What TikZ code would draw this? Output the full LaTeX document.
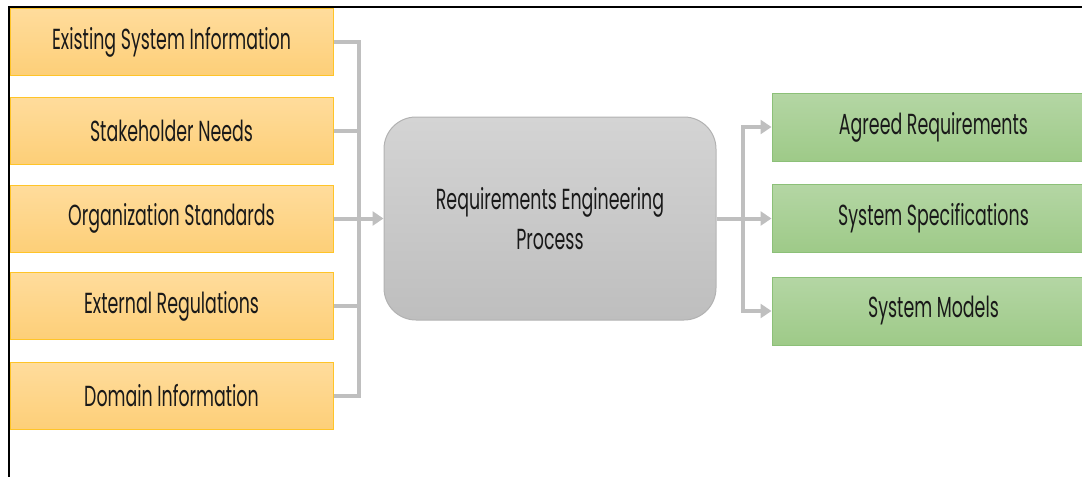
\documentclass[tikz,border=0pt]{standalone}
\usepackage{fontspec}
\usetikzlibrary{arrows.meta}
\newfontfamily\labelfont{Poppins}[FakeStretch=0.6]
\definecolor{inTop}{RGB}{255,220,156}
\definecolor{inBot}{RGB}{253,207,120}
\definecolor{inEdge}{RGB}{255,196,40}
\definecolor{outTop}{RGB}{180,214,164}
\definecolor{outBot}{RGB}{158,202,136}
\definecolor{outEdge}{RGB}{140,192,120}
\definecolor{procTop}{RGB}{212,212,212}
\definecolor{procBot}{RGB}{190,190,190}
\definecolor{procEdge}{RGB}{178,178,178}
\definecolor{wire}{RGB}{191,191,191}
\tikzset{
  boxtext/.style={font=\labelfont\fontsize{29}{40}\selectfont, text=black!90, align=center, inner sep=0pt},
  inbox/.style={boxtext, rectangle, draw=inEdge, line width=1pt, top color=inTop, bottom color=inBot,
    minimum width=323pt, minimum height=67pt},
  outbox/.style={boxtext, rectangle, draw=outEdge, line width=1pt, top color=outTop, bottom color=outBot,
    minimum width=323pt, minimum height=68pt},
  procbox/.style={boxtext, rectangle, rounded corners=32pt, draw=procEdge, line width=1pt,
    top color=procTop, bottom color=procBot, minimum width=332pt, minimum height=203pt},
  wireline/.style={draw=wire, line width=4pt},
  feed/.style={wireline, -{Triangle[length=11pt,width=14pt]}},
  frame/.style={draw=black, line width=2pt}
}
\begin{document}
\begin{tikzpicture}[x=1pt,y=-1pt]
\useasboundingbox (0,0) rectangle (1082,477);
\clip (0,0) rectangle (1082,477);

% frame lines along the top and the left
\draw[frame] (8,7) -- (1082,7);
\draw[frame] (9,7) -- (9,477);

% inputs
\node[inbox] (in1) at (171.5,42) {\raisebox{-1.5pt}{Existing System Information}};
\node[inbox] (in2) at (171.5,130.5) {\raisebox{-1.5pt}{Stakeholder Needs}};
\node[inbox] (in3) at (171.5,218.5) {\raisebox{-1.5pt}{Organization Standards}};
\node[inbox] (in4) at (171.5,306) {\raisebox{-1.5pt}{External Regulations}};
\node[inbox] (in5) at (171.5,396) {\raisebox{-1.5pt}{Domain Information}};

% process
\node[procbox] (proc) at (550,218.5) {Requirements Engineering\\Process};

% outputs
\node[outbox] (out1) at (933.5,127) {\raisebox{-1.5pt}{Agreed Requirements}};
\node[outbox] (out2) at (933.5,218.5) {\raisebox{-1.5pt}{System Specifications}};
\node[outbox] (out3) at (933.5,311) {\raisebox{-1.5pt}{System Models}};

% collecting bus on the left
\coordinate (busL) at (358.5,218.5);
\draw[wireline] (in1.east) -| (busL);
\draw[wireline] (in2.east) -| (busL);
\draw[wireline] (in4.east) -| (busL);
\draw[wireline] (in5.east) -| (busL);
\draw[feed] (in3.east) -- (proc.west);

% distributing bus on the right
\coordinate (busR) at (743,218.5);
\draw[wireline] (proc.east) -- (busR);
\draw[feed] (busR) |- (out1.west);
\draw[feed] (busR) -- (out2.west);
\draw[feed] (busR) |- (out3.west);
\end{tikzpicture}
\end{document}
